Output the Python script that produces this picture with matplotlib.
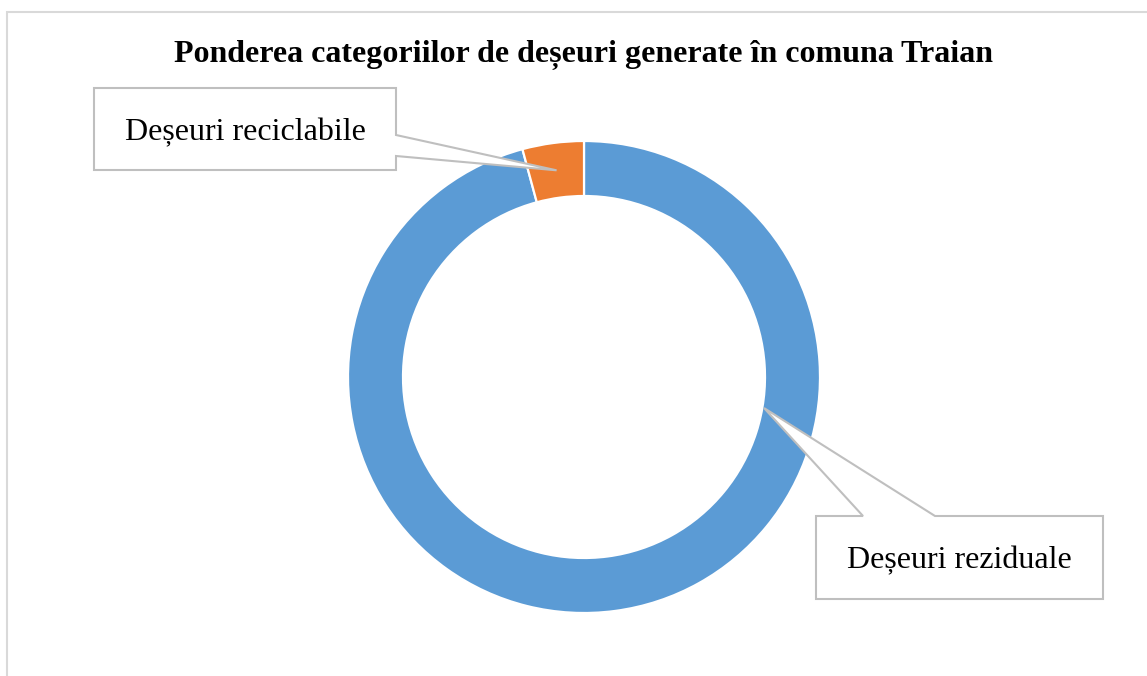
import numpy as np
import matplotlib
matplotlib.use("Agg")
import matplotlib.pyplot as plt
from matplotlib.patches import Polygon

categories = ["Deșeuri reziduale", "Deșeuri reciclabile"]
values = [95.8, 4.2]
colors = ["#5B9BD5", "#ED7D31"]
title = "Ponderea categoriilor de deșeuri generate în comuna Traian"

W, H = 1147, 676
fig = plt.figure(figsize=(W / 100, H / 100), dpi=100)
ax = fig.add_axes([0, 0, 1, 1])

cx, cy = 584, H - 377
R = 236
ring = 55

wedges, _ = ax.pie(values, colors=colors, startangle=90, counterclock=False,
                   center=(cx, cy), radius=R,
                   wedgeprops=dict(width=ring, edgecolor="white", linewidth=1.6))
ax.set_xlim(0, W)
ax.set_ylim(0, H)
ax.set_aspect("equal")
ax.axis("off")

# chart frame (top & left visible)
ax.plot([7, 7, W + 5], [-5, H - 11.5, H - 11.5], color="#d9d9d9", lw=1.5,
        solid_joinstyle="miter", clip_on=False)

ax.text(cx, H - 62, title, ha="center", va="baseline", fontsize=23,
        fontweight="bold", family="Liberation Serif", color="black")

def callout(box, pts_fn, baseline, label):
    x0, y0, x1, y1 = box  # pixel coords from top
    pts = pts_fn(x0, y0, x1, y1)
    poly = Polygon([(px, H - py) for px, py in pts], closed=True,
                   facecolor="white", edgecolor="#bfbfbf", lw=1.5, zorder=5,
                   joinstyle="miter")
    ax.add_patch(poly)
    ax.text((x0 + x1) / 2, H - baseline, label, ha="center", va="baseline",
            fontsize=23, family="Liberation Serif", color="black", zorder=6)

# tip for the recyclable slice: middle of its wedge
w = wedges[1]
mid = np.deg2rad((w.theta1 + w.theta2) / 2)
rm = R - ring / 2
tip1 = (cx + rm * np.cos(mid), H - (cy + rm * np.sin(mid)))

def pts1(x0, y0, x1, y1):
    return [(x0, y0), (x1, y0), (x1, 135), tip1, (x1, 156), (x1, y1), (x0, y1)]

def pts2(x0, y0, x1, y1):
    return [(x0, y0), (863, y0), (764, 408), (935, y0), (x1, y0), (x1, y1), (x0, y1)]

callout((94, 88, 396, 170), pts1, 140, categories[1])
callout((816, 516, 1103, 599), pts2, 568, categories[0])

fig.savefig("out.png", dpi=100, facecolor="white")
